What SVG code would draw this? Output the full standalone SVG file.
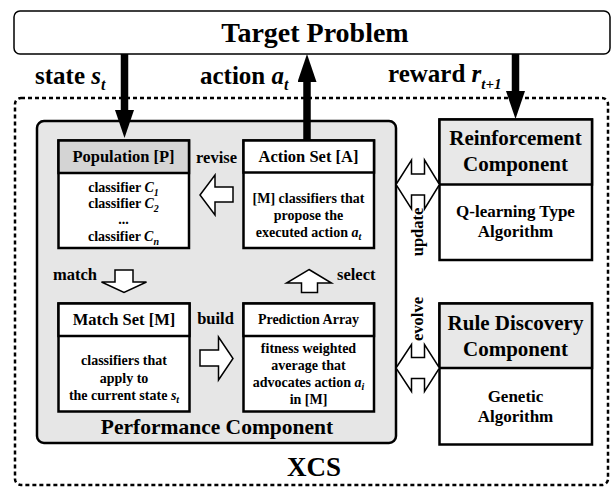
<svg xmlns="http://www.w3.org/2000/svg" width="611" height="489" viewBox="0 0 611 489" font-family="'Liberation Serif', 'DejaVu Serif', serif" font-weight="bold">
<defs>
<style>
text { font-family: 'Liberation Serif', 'DejaVu Serif', serif; font-weight: 700; fill: #000; }
.box { fill: #fff; stroke: #000; stroke-width: 2.5; }
.hdark { fill: #d4d4d4; stroke: #000; stroke-width: 2.5; }
.hlight { fill: #e8e8e8; stroke: #000; stroke-width: 2.5; }
.hwhite { fill: #fff; stroke: #000; stroke-width: 2.5; }
.blk { fill: #fff; stroke: #000; stroke-width: 1.5; stroke-linejoin: miter; }
.thick { stroke: #000; stroke-width: 7.5; fill: none; }
.i { font-style: italic; }
.c { text-anchor: middle; }
.hd { font-size: 16.5px; }
.bd { font-size: 14px; }
.lb { font-size: 16.5px; }
.rh { font-size: 21px; }
.rb { font-size: 17px; }
.io { font-size: 25px; }
</style>
<marker id="ah" markerUnits="userSpaceOnUse" markerWidth="28" markerHeight="19" refX="8" refY="9.5" orient="auto">
<path d="M0,0 L28,9.5 L0,19 z" fill="#000"/>
</marker>
</defs>
<rect x="0" y="0" width="611" height="489" fill="#fff"/>

<g id="target">
<rect x="14" y="11" width="596" height="43" rx="6" fill="#fff" stroke="#000" stroke-width="1.5"/>
<text class="c" x="315" y="42" font-size="28">Target Problem</text>
</g>

<g id="xcs">
<rect x="15" y="98" width="593" height="387" rx="6" fill="none" stroke="#000" stroke-width="2.5" stroke-dasharray="4 3"/>
<text class="c" x="314" y="476" font-size="27">XCS</text>
</g>

<g id="performance">
<rect x="37" y="121" width="359" height="322" rx="7" fill="#e6e6e6" stroke="#000" stroke-width="2.5"/>
<text class="c" x="217" y="434" font-size="21.5">Performance Component</text>
</g>

<g id="population">
<rect class="box" x="58.5" y="140.5" width="130.5" height="107.5"/>
<rect class="hdark" x="58.5" y="140.5" width="130.5" height="32.5"/>
<text class="c hd" x="123.5" y="162">Population [P]</text>
<text class="c bd" x="123.5" y="192">classifier <tspan class="i">C</tspan><tspan class="i" font-size="10" dy="4">1</tspan></text>
<text class="c bd" x="123.5" y="208">classifier <tspan class="i">C</tspan><tspan class="i" font-size="10" dy="4">2</tspan></text>
<text class="c bd" x="123.5" y="224">...</text>
<text class="c bd" x="123.5" y="241">classifier <tspan class="i">C</tspan><tspan class="i" font-size="10" dy="4">n</tspan></text>
</g>

<g id="actionset">
<rect class="box" x="243.5" y="140.5" width="130.5" height="107.5"/>
<rect class="hwhite" x="243.5" y="140.5" width="130.5" height="32"/>
<text class="c hd" x="308.5" y="162">Action Set [A]</text>
<text class="c bd" x="308.5" y="203">[M] classifiers that</text>
<text class="c bd" x="308.5" y="220">propose the</text>
<text class="c bd" x="308.5" y="237">executed action <tspan class="i">a</tspan><tspan class="i" font-size="10" dy="3">t</tspan></text>
</g>

<g id="matchset">
<rect class="box" x="58.5" y="303.5" width="131" height="108"/>
<rect class="hwhite" x="58.5" y="303.5" width="131" height="32.5"/>
<text class="c hd" x="124" y="325">Match Set [M]</text>
<text class="c bd" x="124" y="365">classifiers that</text>
<text class="c bd" x="124" y="383">apply to</text>
<text class="c bd" x="124" y="400">the current state <tspan class="i">s</tspan><tspan class="i" font-size="10" dy="3">t</tspan></text>
</g>

<g id="prediction">
<rect class="box" x="243.5" y="303.5" width="130.5" height="108"/>
<rect class="hwhite" x="243.5" y="303.5" width="130.5" height="32.5"/>
<text class="c bd" x="308.5" y="324">Prediction Array</text>
<text class="c bd" x="308.5" y="353">fitness weighted</text>
<text class="c bd" x="308.5" y="370">average that</text>
<text class="c bd" x="308.5" y="387">advocates action <tspan class="i">a</tspan><tspan class="i" font-size="10" dy="3">i</tspan></text>
<text class="c bd" x="308.5" y="404">in [M]</text>
</g>

<g id="reinforcement">
<rect class="box" x="439.5" y="119.5" width="152.5" height="140.5"/>
<rect class="hlight" x="439.5" y="119.5" width="152.5" height="65"/>
<text class="c rh" x="515.5" y="145">Reinforcement</text>
<text class="c rh" x="515.5" y="171">Component</text>
<text class="c rb" x="515.5" y="217">Q-learning Type</text>
<text class="c rb" x="515.5" y="237">Algorithm</text>
</g>

<g id="rulediscovery">
<rect class="box" x="439.5" y="303.5" width="152.5" height="141"/>
<rect class="hlight" x="439.5" y="303.5" width="152.5" height="64.5"/>
<text class="c rh" x="515.5" y="330">Rule Discovery</text>
<text class="c rh" x="515.5" y="356">Component</text>
<text class="c rb" x="515.5" y="402">Genetic</text>
<text class="c rb" x="515.5" y="422">Algorithm</text>
</g>

<g id="connectors">
<path class="thick" d="M124.5,54 V118" marker-end="url(#ah)"/>
<path class="thick" d="M307,140 V74" marker-end="url(#ah)"/>
<path class="thick" d="M515.5,54 V99" marker-end="url(#ah)"/>
<text class="io" x="35" y="84">state <tspan class="i">s</tspan><tspan class="i" font-size="16" dy="6">t</tspan></text>
<text class="io" x="200" y="84">action <tspan class="i">a</tspan><tspan class="i" font-size="16" dy="6">t</tspan></text>
<text class="io" x="388" y="82">reward <tspan class="i">r</tspan><tspan class="i" font-size="15" dy="7">t+1</tspan></text>

<polygon class="blk" points="200,195 215,175 215,187 233,187 233,202 215,202 215,215"/>
<text class="lb c" x="216.5" y="163">revise</text>
<polygon class="blk" points="115,270 133,270 133,282 146.5,282 124,292.5 101.5,282 115,282"/>
<text class="lb" x="53" y="280">match</text>
<polygon class="blk" points="309,269.5 331.5,283 317.5,283 317.5,292.5 301.5,292.5 301.5,283 286.5,283"/>
<text class="lb" x="337" y="280">select</text>
<polygon class="blk" points="200,350 218.5,350 218.5,337 233,358.5 218.5,380 218.5,366 200,366"/>
<text class="lb c" x="215.5" y="324">build</text>

<polygon class="blk" points="396,184.5 411.5,160 411.5,174 424.5,174 424.5,160 439.5,184.5 424.5,209 424.5,195 411.5,195 411.5,209"/>
<text class="lb c" transform="translate(422.5,232) rotate(-90)">update</text>
<polygon class="blk" points="396,368 411.5,344.5 411.5,357.5 424.5,357.5 424.5,344.5 439.5,368 424.5,391.5 424.5,378.5 411.5,378.5 411.5,391.5"/>
<text class="lb c" transform="translate(422.5,319) rotate(-90)">evolve</text>
</g>
</svg>
